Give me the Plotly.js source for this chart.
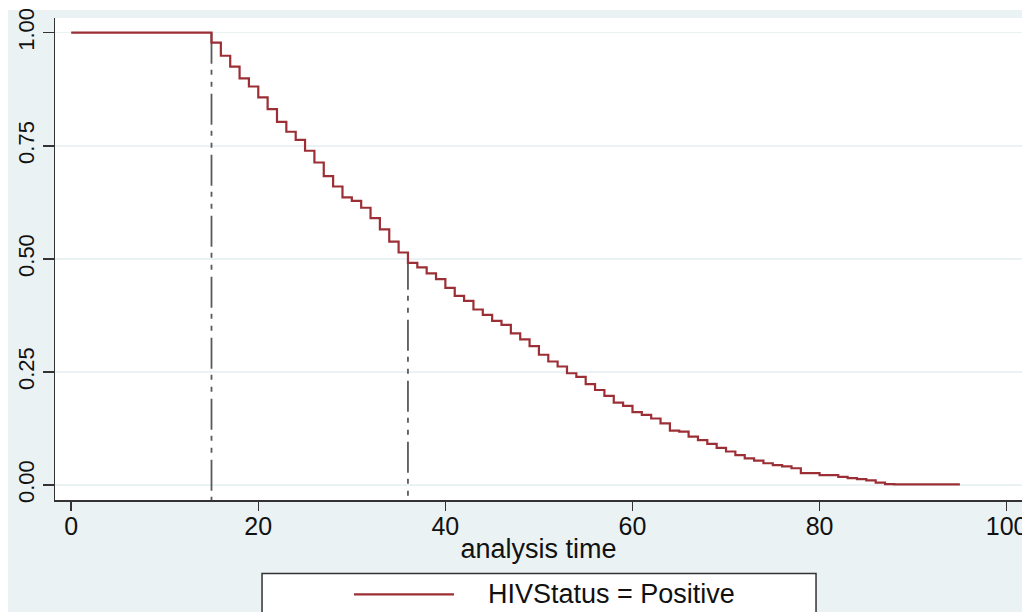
<!DOCTYPE html>
<html>
<head>
<meta charset="utf-8">
<script src="https://cdn.plot.ly/plotly-3.0.1.min.js"></script>
<style>
  html, body { margin: 0; padding: 0; background: #ffffff; }
  #chart { position: absolute; left: 0; top: 0; width: 1022px; height: 612px; }
</style>
</head>
<body>
<div id="chart"></div>
<script>
// Kaplan-Meier survival estimate (step after each time)
const times = [0, 15, 16, 17, 18, 19, 20, 21, 22, 23, 24, 25, 26, 27, 28, 29, 30, 31, 32, 33, 34, 35,
  36, 37, 38, 39, 40, 41, 42, 43, 44, 45, 46, 47, 48, 49, 50, 51, 52, 53, 54, 55, 56, 57, 58, 59,
  60, 61, 62, 63, 64, 65, 66, 67, 68, 69, 70, 71, 72, 73, 74, 75, 76, 77, 78, 80, 82, 83, 84, 85,
  86, 87, 88, 95];
const survival = [1.000, 0.978, 0.949, 0.925, 0.899, 0.881, 0.857, 0.831, 0.803, 0.781, 0.763, 0.739,
  0.713, 0.683, 0.660, 0.636, 0.628, 0.613, 0.590, 0.565, 0.538, 0.514,
  0.491, 0.481, 0.468, 0.455, 0.436, 0.418, 0.407, 0.388, 0.376, 0.363, 0.354, 0.335, 0.322, 0.307,
  0.288, 0.273, 0.262, 0.247, 0.239, 0.223, 0.210, 0.197, 0.182, 0.175,
  0.161, 0.155, 0.147, 0.136, 0.120, 0.118, 0.107, 0.099, 0.091, 0.082, 0.074, 0.066, 0.059, 0.054,
  0.048, 0.044, 0.041, 0.037, 0.026, 0.022, 0.018, 0.015, 0.013, 0.010,
  0.005, 0.002, 0.0015, 0.0015];
const seriesName = "HIVStatus = Positive";

// reference (percentile) lines
const refTimes = [15, 36];
const refHeights = [1.0, 0.5];

// axes
const xTicks = [0, 20, 40, 60, 80, 100];
const yTicks = [0, 0.25, 0.5, 0.75, 1.0];
const xTitle = "analysis time";

const yBottom = -0.0332;

const traces = [];
refTimes.forEach((t, i) => {
  traces.push({
    x: [t, t], y: [refHeights[i], yBottom],
    mode: 'lines', type: 'scatter', showlegend: false, hoverinfo: 'skip',
    line: { color: '#5a5a5a', width: 1.8, dash: '31px,6px,5px,7px,5px,7px' }
  });
});
traces.push({
  x: times, y: survival, name: seriesName,
  mode: 'lines', type: 'scatter', showlegend: false,
  line: { color: '#9c2f35', width: 2.2, shape: 'hv' }
});

const font = 'Liberation Sans, Arial, sans-serif';
const layout = {
  width: 1022, height: 612,
  margin: { l: 55, r: 0, t: 18, b: 112 },
  paper_bgcolor: '#eaf2f3',
  plot_bgcolor: '#ffffff',
  showlegend: false,
  xaxis: {
    range: [-1.73, 101.64],
    tickvals: xTicks, ticktext: xTicks.map(String),
    ticklabeloverflow: 'allow',
    ticklabelstandoff: -6,
    showgrid: false, zeroline: false,
    showline: true, linecolor: '#333333', linewidth: 1.5,
    ticks: 'outside', ticklen: 9, tickwidth: 1.5, tickcolor: '#333333',
    tickfont: { family: font, size: 25, color: '#111111' },
    title: { text: xTitle, font: { family: font, size: 27, color: '#111111' }, standoff: 0 }
  },
  yaxis: {
    range: [yBottom, 1.0325],
    tickvals: yTicks, ticktext: yTicks.map(v => v.toFixed(2)),
    ticklabeloverflow: 'allow',
    tickangle: -90,
    showgrid: true, gridcolor: '#eaf2f3', gridwidth: 1.5,
    zeroline: false,
    showline: true, linecolor: '#333333', linewidth: 1.5,
    ticks: 'outside', ticklen: 11, tickwidth: 1.5, tickcolor: '#333333',
    tickfont: { family: font, size: 22, color: '#111111' }
  },
  shapes: [
    // white strips at top and left of the frame
    { type: 'rect', xref: 'paper', yref: 'paper', x0: -0.06, x1: 1.0, y0: 1.0166, y1: 1.04,
      line: { width: 0 }, fillcolor: '#ffffff', layer: 'below' },
    { type: 'rect', xref: 'paper', yref: 'paper', x0: -0.06, x1: -0.0486, y0: -0.24, y1: 1.04,
      line: { width: 0 }, fillcolor: '#ffffff', layer: 'below' },
    // legend box
    { type: 'rect', xref: 'paper', yref: 'paper', x0: 0.2141, x1: 0.787, y0: -0.26, y1: -0.1525,
      line: { color: '#333333', width: 1.5 }, fillcolor: '#ffffff', layer: 'above' },
    { type: 'line', xref: 'paper', yref: 'paper', x0: 0.3092, x1: 0.4126, y0: -0.196, y1: -0.196,
      line: { color: '#9c2f35', width: 2.2 }, layer: 'above' }
  ],
  annotations: [
    { xref: 'paper', yref: 'paper', x: 0.4457, y: -0.196, xanchor: 'left', yanchor: 'middle',
      text: seriesName, showarrow: false, font: { family: font, size: 27, color: '#111111' } }
  ]
};

Plotly.newPlot('chart', traces, layout, { displayModeBar: false, staticPlot: true });
</script>
</body>
</html>
